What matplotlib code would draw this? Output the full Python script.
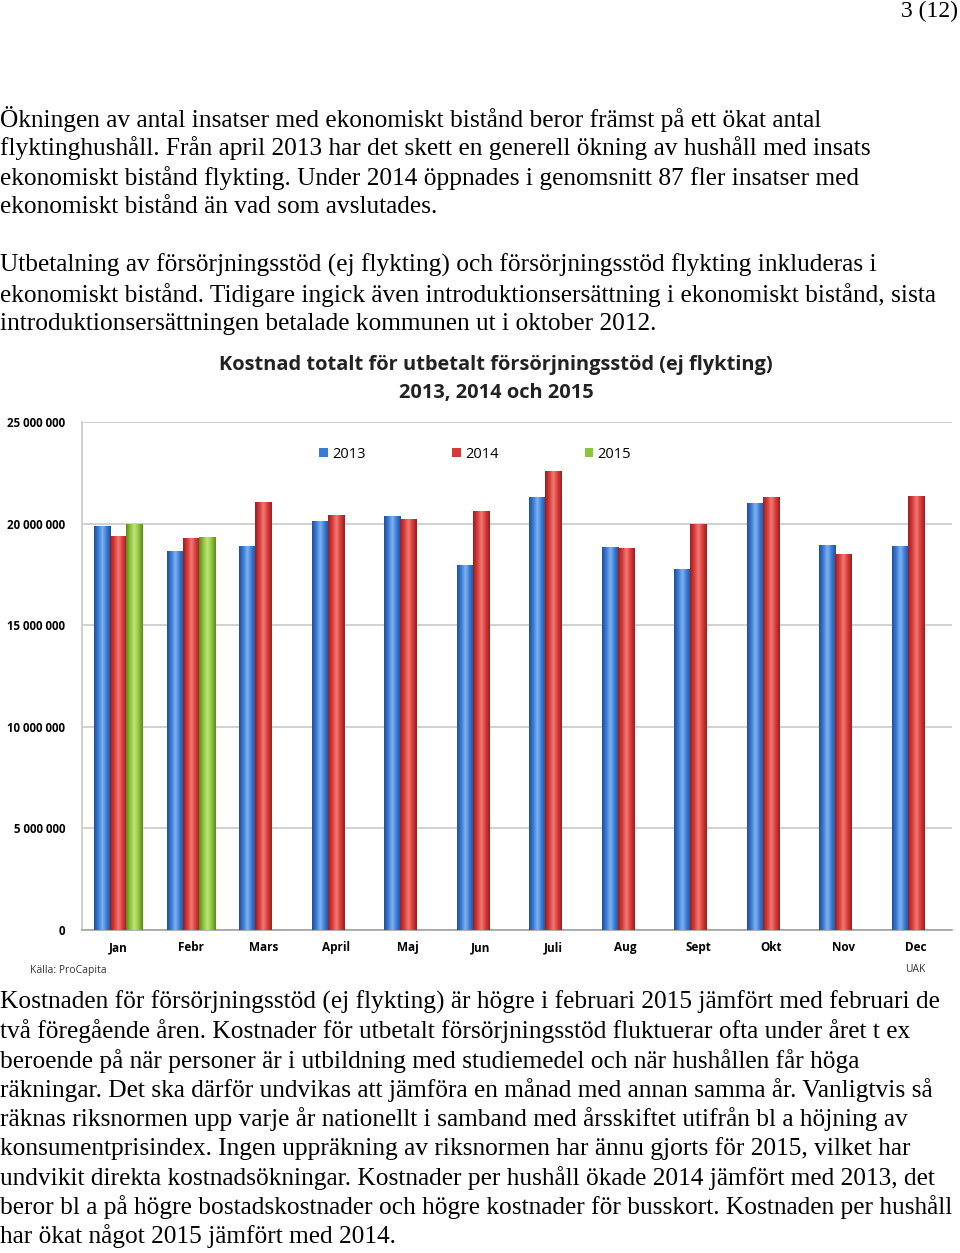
import numpy as np
import matplotlib
matplotlib.use("Agg")
from matplotlib import pyplot as plt
from matplotlib.colors import LinearSegmentedColormap

months = ["Jan", "Febr", "Mars", "April", "Maj", "Jun", "Juli", "Aug", "Sept", "Okt", "Nov", "Dec"]
cost_2013 = [19.87, 18.64, 18.88, 20.15, 20.37, 17.95, 21.30, 18.86, 17.75, 20.99, 18.96, 18.91]
cost_2014 = [19.40, 19.27, 21.05, 20.40, 20.23, 20.60, 22.57, 18.81, 20.00, 21.29, 18.52, 21.34]
cost_2015 = [20.00, 19.34]
yticks = [0, 5, 10, 15, 20, 25]
ytick_labels = ["0", "5 000 000", "10 000 000", "15 000 000", "20 000 000", "25 000 000"]

para_top = [
    "Ökningen av antal insatser med ekonomiskt bistånd beror främst på ett ökat antal",
    "flyktinghushåll. Från april 2013 har det skett en generell ökning av hushåll med insats",
    "ekonomiskt bistånd flykting. Under 2014 öppnades i genomsnitt 87 fler insatser med",
    "ekonomiskt bistånd än vad som avslutades.",
    None,
    "Utbetalning av försörjningsstöd (ej flykting) och försörjningsstöd flykting inkluderas i",
    "ekonomiskt bistånd. Tidigare ingick även introduktionsersättning i ekonomiskt bistånd, sista",
    "introduktionsersättningen betalade kommunen ut i oktober 2012.",
]
para_bottom = [
    "Kostnaden för försörjningsstöd (ej flykting) är högre i februari 2015 jämfört med februari de",
    "två föregående åren. Kostnader för utbetalt försörjningsstöd fluktuerar ofta under året t ex",
    "beroende på när personer är i utbildning med studiemedel och när hushållen får höga",
    "räkningar. Det ska därför undvikas att jämföra en månad med annan samma år. Vanligtvis så",
    "räknas riksnormen upp varje år nationellt i samband med årsskiftet utifrån bl a höjning av",
    "konsumentprisindex. Ingen uppräkning av riksnormen har ännu gjorts för 2015, vilket har",
    "undvikit direkta kostnadsökningar. Kostnader per hushåll ökade 2014 jämfört med 2013, det",
    "beror bl a på högre bostadskostnader och högre kostnader för busskort. Kostnaden per hushåll",
    "har ökat något 2015 jämfört med 2014.",
]

W, H = 960, 1253
fig = plt.figure(figsize=(W / 100, H / 100), dpi=100)
serif = ["Liberation Serif", "DejaVu Serif"]
sans = ["Open Sans", "DejaVu Sans"]

def fy(py):
    return 1 - py / H

fig.text(958 / W, fy(11), "3 (12)", family=serif, fontsize=17, ha="right", va="center")

y = 119
for line in para_top:
    if line:
        fig.text(0.0, fy(y), line, family=serif, fontsize=18.3, ha="left", va="center")
    y += 29.3
y = 1002
for line in para_bottom:
    fig.text(0.0, fy(y), line, family=serif, fontsize=18.3, ha="left", va="center")
    y += 29.3

fig.text(496 / W, fy(365), "Kostnad totalt för utbetalt försörjningsstöd (ej flykting)",
         family=sans, fontweight="bold", fontsize=14.4, ha="center", va="center", color="#222222")
fig.text(496 / W, fy(393), "2013, 2014 och 2015",
         family=sans, fontweight="bold", fontsize=14.4, ha="center", va="center", color="#222222")

ax = fig.add_axes([82 / W, fy(930), 870 / W, (930 - 422) / H])
x = np.arange(len(months))
w = 0.222

series = [
    (cost_2013, "2013", "#3b7bd4", "#1f4f9a", "#7fb2f0"),
    (cost_2014, "2014", "#d83a3a", "#9a1f1f", "#f07a72"),
    (cost_2015, "2015", "#8cc43c", "#5a8a1e", "#c3e57a"),
]
for i, (vals, lab, col, dark, light) in enumerate(series):
    xs = x[:len(vals)] + (i - 1) * w
    bars = ax.bar(xs, vals, width=w, color=col, label=lab, zorder=3, linewidth=0)
    cmap = LinearSegmentedColormap.from_list(lab, [dark, col, light, col, dark])
    grad = np.linspace(0, 1, 64).reshape(1, -1)
    for b in bars:
        im = ax.imshow(grad, cmap=cmap, aspect="auto", zorder=3.5,
                       extent=[b.get_x(), b.get_x() + b.get_width(), 0, b.get_height()])
        im.set_clip_path(b)

ax.set_xlim(-0.5, len(months) - 0.5)
ax.set_ylim(0, 25)
ax.set_yticks(yticks)
ax.set_yticklabels(ytick_labels, family=sans, fontweight="bold", fontsize=8.3)
ax.set_xticks(x)
ax.set_xticklabels(months, family=sans, fontweight="bold", fontsize=8.5)
ax.tick_params(length=0, pad=12)
ax.tick_params(axis="x", pad=8)
ax.grid(axis="y", color="#c8c8c8", linewidth=1.2, zorder=0)
for s in ["top", "right"]:
    ax.spines[s].set_visible(False)
ax.spines["left"].set_color("#c8c8c8")
ax.spines["left"].set_linewidth(1.2)
ax.spines["bottom"].set_color("#a0a0a0")
ax.spines["bottom"].set_linewidth(1.2)

leg = ax.legend(loc="center", bbox_to_anchor=(0.452, 0.937), ncol=3, frameon=False,
                handlelength=0.6, handleheight=0.6, handletextpad=0.3, columnspacing=5.9,
                prop={"family": sans, "size": 10.5})

fig.text(30 / W, fy(970), "Källa: ProCapita", family=sans, fontsize=7.5, ha="left", va="center", color="#333333")
fig.text(915 / W, fy(969), "UAK", family=sans, fontsize=7.5, ha="center", va="center", color="#333333")

fig.savefig("out.png", dpi=100)
